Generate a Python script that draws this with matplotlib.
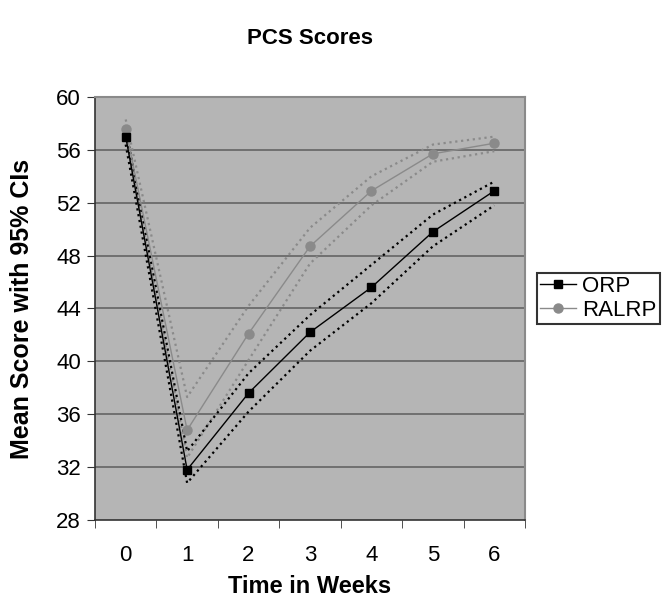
import matplotlib
matplotlib.use('Agg')
from matplotlib import pyplot as plt

weeks = [0, 1, 2, 3, 4, 5, 6]

orp = [57.0, 31.8, 37.6, 42.2, 45.6, 49.8, 52.9]
orp_hi = [57.6, 33.2, 39.1, 43.5, 47.3, 51.1, 53.6]
orp_lo = [56.4, 30.8, 36.2, 40.8, 44.4, 48.7, 51.8]

ralrp = [57.6, 34.8, 42.1, 48.7, 52.9, 55.7, 56.5]
ralrp_hi = [58.3, 37.3, 44.2, 50.1, 54.0, 56.4, 57.0]
ralrp_lo = [57.0, 32.7, 40.1, 47.4, 51.8, 55.1, 55.9]

plt.rcParams['font.family'] = ['Liberation Sans', 'DejaVu Sans']

fig = plt.figure(figsize=(6.67, 6.05), dpi=100)
ax = fig.add_axes([0.1424, 0.1405, 0.6447, 0.6992])
ax.set_facecolor('#b5b5b5')

grey = '#8a8a8a'
ax.plot(weeks, ralrp_hi, ':', color=grey, lw=1.6)
ax.plot(weeks, ralrp_lo, ':', color=grey, lw=1.6)
ax.plot(weeks, orp_hi, ':', color='black', lw=1.6)
ax.plot(weeks, orp_lo, ':', color='black', lw=1.6)
ax.plot(weeks, ralrp, '-o', color=grey, lw=1, ms=6.5, label='RALRP')
ax.plot(weeks, orp, '-s', color='black', lw=1, ms=5.5, label='ORP')

ax.set_xlim(-0.5, 6.5)
ax.set_ylim(28, 60)
ax.set_yticks(range(28, 61, 4))
ax.set_xticks(weeks)
ax.set_xticks([w - 0.5 for w in weeks] + [6.5], minor=True)
ax.tick_params(axis='x', which='major', length=0, pad=18, labelsize=16)
ax.tick_params(axis='x', which='minor', length=6, direction='out', color='#333333')
ax.tick_params(axis='y', length=6, direction='out', color='#333333', labelsize=16, pad=4)

for y in range(32, 60, 4):
    ax.axhline(y, color='#6a6a6a', lw=1.3, zorder=0)
for s in ['top', 'right']:
    ax.spines[s].set_color('#8a8a8a')
    ax.spines[s].set_linewidth(1.5)
for s in ['left', 'bottom']:
    ax.spines[s].set_color('#333333')
    ax.spines[s].set_linewidth(1.2)

ax.set_title('PCS Scores', fontsize=16, fontweight='bold', pad=38)
ax.set_xlabel('Time in Weeks', fontsize=17, fontweight='bold')
ax.set_ylabel('Mean Score with 95% CIs', fontsize=18, fontweight='bold')
ax.xaxis.set_label_coords(0.5, -0.13)
ax.yaxis.set_label_coords(-0.142, 0.5)

h, l = ax.get_legend_handles_labels()
leg = fig.legend(h[::-1], l[::-1], loc='upper left', bbox_to_anchor=(0.805, 0.549),
                 fontsize=16, frameon=True, fancybox=False, handlelength=1.6,
                 handletextpad=0.3, borderpad=0.15, labelspacing=0.12, borderaxespad=0)
leg.get_frame().set_edgecolor('black')
leg.get_frame().set_linewidth(1.5)

fig.savefig('out.png', dpi=100)
